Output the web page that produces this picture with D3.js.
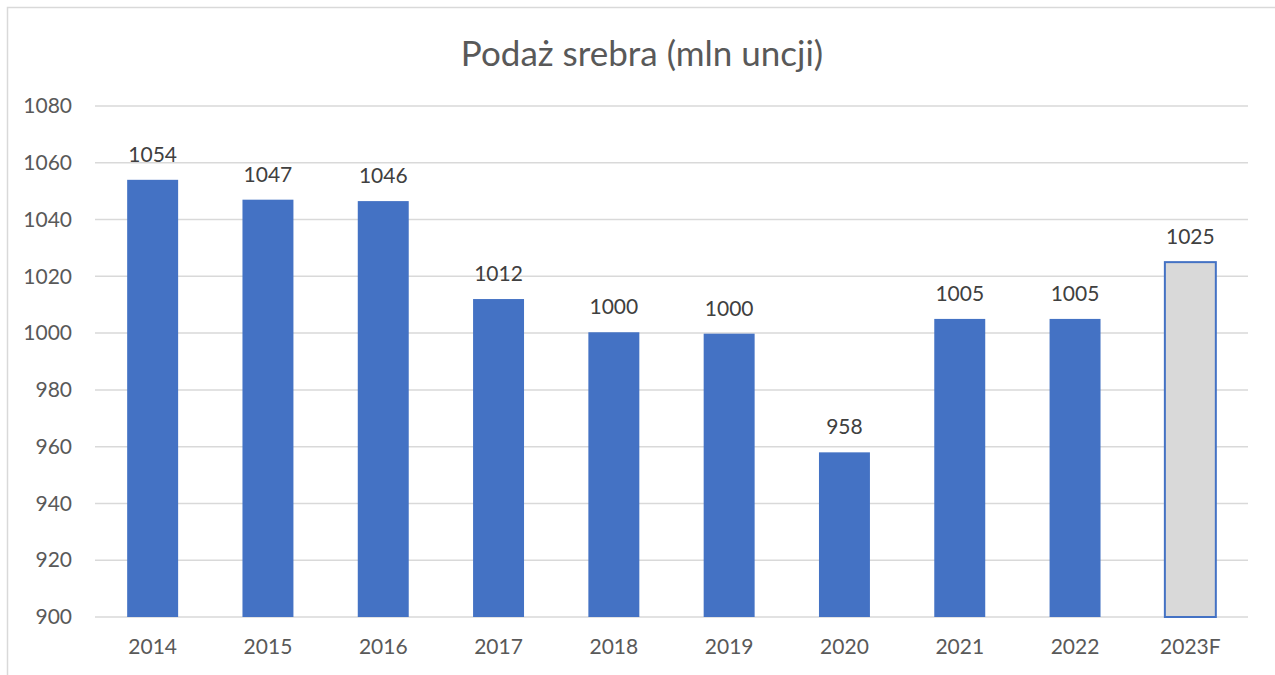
<!DOCTYPE html>
<html>
<head>
<meta charset="utf-8">
<script src="https://cdn.jsdelivr.net/npm/d3@7/dist/d3.min.js"></script>
<style>
  body { margin: 0; background: #fff; }
  svg { display: block; font-family: Lato, "Open Sans", sans-serif; }
</style>
</head>
<body>
<div id="chart"></div>
<script>
// data
var years = ["2014", "2015", "2016", "2017", "2018", "2019", "2020", "2021", "2022", "2023F"];
var supply = [1054, 1047, 1046.5, 1012, 1000.3, 999.8, 958, 1005, 1005, 1025];
var labels = ["1054", "1047", "1046", "1012", "1000", "1000", "958", "1005", "1005", "1025"];
var yTicks = [900, 920, 940, 960, 980, 1000, 1020, 1040, 1060, 1080];
var forecast = "2023F";

var width = 1275, height = 675;
var margin = {top: 106, right: 27, bottom: 58, left: 95};

var svg = d3.select("#chart").append("svg")
  .attr("width", width)
  .attr("height", height);

// chart frame
svg.append("rect")
  .attr("x", 7.5).attr("y", 7.5)
  .attr("width", width + 10).attr("height", height + 10)
  .attr("fill", "none")
  .attr("stroke", "#d9d9d9")
  .attr("stroke-width", 1.5);

svg.append("text")
  .attr("x", 642)
  .attr("y", 66)
  .attr("text-anchor", "middle")
  .attr("fill", "#595959")
  .style("font-size", "35px")
  .text("Podaż srebra (mln uncji)");

var x = d3.scaleBand()
  .domain(years)
  .range([margin.left, width - margin.right])
  .paddingInner(0.558)
  .paddingOuter(0.279);

var y = d3.scaleLinear()
  .domain([900, 1080])
  .range([height - margin.bottom, margin.top]);

// gridlines
svg.append("g")
  .selectAll("line")
  .data(yTicks)
  .enter().append("line")
    .attr("x1", margin.left)
    .attr("x2", width - margin.right)
    .attr("y1", function(d) { return y(d); })
    .attr("y2", function(d) { return y(d); })
    .attr("stroke", "#d9d9d9")
    .attr("stroke-width", 1.5);

// y axis labels
var yAxis = svg.append("g")
  .attr("transform", "translate(" + (margin.left - 23) + ",0)")
  .call(d3.axisLeft(y).tickValues(yTicks).tickFormat(d3.format("d")).tickSize(0).tickPadding(0));
yAxis.select(".domain").remove();
yAxis.selectAll("text")
  .attr("fill", "#595959")
  .style("font-family", "Lato, 'Open Sans', sans-serif")
  .style("font-size", "21px");

// x axis labels
var xAxis = svg.append("g")
  .attr("transform", "translate(0," + (height - margin.bottom) + ")")
  .call(d3.axisBottom(x).tickSize(0).tickPadding(22));
xAxis.select(".domain").remove();
xAxis.selectAll("text")
  .attr("fill", "#595959")
  .style("font-family", "Lato, 'Open Sans', sans-serif")
  .style("font-size", "21px");

var bars = years.map(function(d, i) { return {year: d, value: supply[i], label: labels[i]}; });

svg.append("g")
  .selectAll("rect")
  .data(bars)
  .enter().append("rect")
    .attr("x", function(d) { return x(d.year); })
    .attr("y", function(d) { return y(d.value); })
    .attr("width", x.bandwidth())
    .attr("height", function(d) { return y(900) - y(d.value); })
    .attr("fill", function(d) { return d.year == forecast ? "#d9d9d9" : "#4472c4"; })
    .attr("stroke", function(d) { return d.year == forecast ? "#4472c4" : "none"; })
    .attr("stroke-width", 2);

svg.append("g")
  .selectAll("text")
  .data(bars)
  .enter().append("text")
    .attr("x", function(d) { return x(d.year) + x.bandwidth() / 2; })
    .attr("y", function(d) { return y(d.value) - 18; })
    .attr("text-anchor", "middle")
    .attr("fill", "#404040")
    .style("font-size", "21px")
    .text(function(d) { return d.label; });
</script>
</body>
</html>
